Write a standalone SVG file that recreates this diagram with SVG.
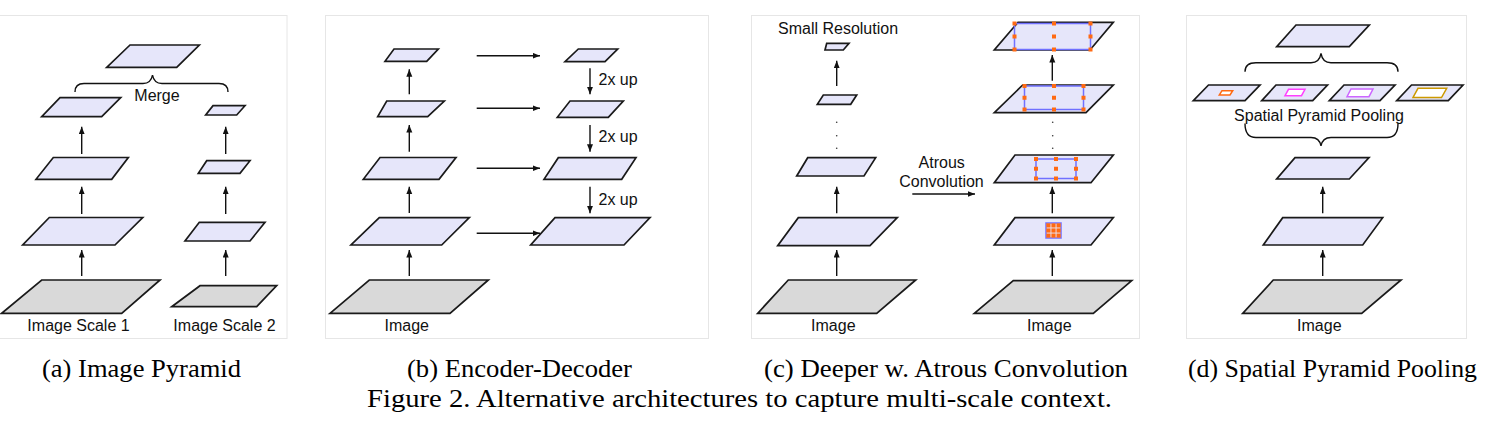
<svg xmlns="http://www.w3.org/2000/svg" width="1490" height="434" viewBox="0 0 1490 434">
<style>
.bg{fill:#ffffff}
.panel{fill:none;stroke:#e6e6e6;stroke-width:1}
.fm{fill:#e6e6fa;stroke:#1a1a1a;stroke-width:1.7;stroke-linejoin:miter}
.im{fill:#d9d9d9;stroke:#1a1a1a;stroke-width:1.7}
.ar{stroke:#111;stroke-width:1.4;fill:none;marker-end:url(#ah)}
.br{fill:none;stroke:#111;stroke-width:1.4}
.t{font-family:"Liberation Sans",Arial,sans-serif;font-size:16px;fill:#111}
.cap{font-family:"Liberation Serif","Times New Roman",Times,serif;font-size:25px;fill:#000}
.kr{fill:none;stroke:#7070ff;stroke-width:1.5}
.od{fill:#ff6a13}
.dt{fill:#333}
</style>
<defs>
<marker id="ah" markerUnits="userSpaceOnUse" markerWidth="8" markerHeight="7" refX="7.5" refY="3" orient="auto">
<path d="M0,0 L7.5,3 L0,6 z" fill="#111"/>
</marker>
</defs>
<rect class="bg" x="0" y="0" width="1490" height="434"/>
<g id="panels">
<rect class="panel" x="-2" y="15.5" width="289" height="323"/>
<rect class="panel" x="325.5" y="15.5" width="383" height="323"/>
<rect class="panel" x="751.5" y="15.5" width="388" height="323"/>
<rect class="panel" x="1186.5" y="15.5" width="280" height="323"/>
</g>

<!-- (a) Image Pyramid -->
<g id="a-image1"><polygon class="im" points="41.7,280 160,280 121.7,313.3 1.7,313.3"/></g>
<g id="a-s1-l1"><polygon class="fm" points="49.3,217.5 142.7,217.5 115,245 22.7,245"/></g>
<g id="a-s1-l2"><polygon class="fm" points="53.3,157.5 128.3,157.5 111.7,179.3 36,179.3"/></g>
<g id="a-s1-l3"><polygon class="fm" points="60,97.7 120.7,97.7 101.7,116.7 41.7,116.7"/></g>
<g id="a-image2"><polygon class="im" points="200,285.7 276.7,285.7 256.7,306.7 171.7,306.7"/></g>
<g id="a-s2-l1"><polygon class="fm" points="199.3,222.3 265,222.3 250,241 185,241"/></g>
<g id="a-s2-l2"><polygon class="fm" points="206.7,160.7 250,160.7 240,173.3 198.3,173.3"/></g>
<g id="a-s2-l3"><polygon class="fm" points="213,105.7 245,105.7 236.7,115 205.7,115"/></g>
<g id="a-merged"><polygon class="fm" points="130,45 199.3,45 176.7,67.3 106.7,67.3"/></g>
<g id="a-merge-brace">
<path class="br" d="M75,92 Q75,83.5 84,83.5 L143,83.5 Q151,83.5 152.5,75 Q154,83.5 162,83.5 L219,83.5 Q228,83.5 228,92"/>
<text class="t" x="157" y="101" text-anchor="middle">Merge</text>
</g>
<text class="t" x="78.5" y="330.5" text-anchor="middle">Image Scale 1</text>
<text class="t" x="224.5" y="330.5" text-anchor="middle">Image Scale 2</text>

<!-- (b) Encoder-Decoder -->
<g id="b-image"><polygon class="im" points="369.3,280 488.3,280 450,313.3 330,313.3"/></g>
<g id="b-e1"><polygon class="fm" points="379.3,217.7 469.3,217.7 441.7,245 351,245"/></g>
<g id="b-e2"><polygon class="fm" points="380,157.5 456,157.5 439,179.3 363.3,179.3"/></g>
<g id="b-e3"><polygon class="fm" points="386.7,101 444.3,101 427.7,116.7 377.7,116.7"/></g>
<g id="b-e4"><polygon class="fm" points="394,49 438.3,49 426.7,61.3 385,61.3"/></g>
<g id="b-d4"><polygon class="fm" points="578.3,49 617.7,49 605,61.7 565,61.7"/></g>
<g id="b-d3"><polygon class="fm" points="570,101 623.3,101 608.3,117.3 557.3,117.3"/></g>
<g id="b-d2"><polygon class="fm" points="558.3,157.7 636,157.7 621.7,179.3 544,179.3"/></g>
<g id="b-d1"><polygon class="fm" points="555,217.7 650,217.7 624,245 530.7,245"/></g>
<text class="t" x="598.5" y="84.5">2x up</text>
<text class="t" x="598.5" y="141.5">2x up</text>
<text class="t" x="598.5" y="204.5">2x up</text>
<text class="t" x="406.7" y="330.5" text-anchor="middle">Image</text>

<!-- (c) Deeper w. Atrous Convolution -->
<g id="c-image-l"><polygon class="im" points="788.3,280 915.7,280 876.7,313.3 757.7,313.3"/></g>
<g id="c-l1"><polygon class="fm" points="798.3,217.7 897.3,217.7 870,245.7 777.7,245.7"/></g>
<g id="c-l2"><polygon class="fm" points="807.7,157.7 875.7,157.7 864,176 796.7,176"/></g>
<g id="c-l3"><polygon class="fm" points="823.3,95 856.7,95 850.7,104.3 817.3,104.3"/></g>
<g id="c-l4"><polygon class="fm" points="826.7,43.3 849,43.3 843.3,50 825,50"/></g>
<text class="t" x="778" y="34">Small Resolution</text>
<g id="c-dots-l"><circle class="dt" cx="836.7" cy="122.3" r="0.8"/><circle class="dt" cx="836.7" cy="135.7" r="0.8"/><circle class="dt" cx="836.7" cy="148.3" r="0.8"/></g>
<text class="t" x="833.3" y="330.5" text-anchor="middle">Image</text>
<text class="t" x="941.7" y="168.3" text-anchor="middle">Atrous</text>
<text class="t" x="941.5" y="186.7" text-anchor="middle">Convolution</text>

<g id="c-image-r"><polygon class="im" points="1013.3,280.7 1131.7,280.7 1093.3,313.3 974.3,313.3"/></g>
<g id="c-r1">
<polygon class="fm" points="1015,217.7 1113.3,217.7 1091,245 994.3,245"/>
<rect x="1046" y="223" width="15" height="15" fill="#ffffff" class="kr"/>
<rect class="od" x="1046.3" y="223.3" width="4.2" height="4.2"/><rect class="od" x="1051.4" y="223.3" width="4.2" height="4.2"/><rect class="od" x="1056.5" y="223.3" width="4.2" height="4.2"/>
<rect class="od" x="1046.3" y="228.4" width="4.2" height="4.2"/><rect class="od" x="1051.4" y="228.4" width="4.2" height="4.2"/><rect class="od" x="1056.5" y="228.4" width="4.2" height="4.2"/>
<rect class="od" x="1046.3" y="233.5" width="4.2" height="4.2"/><rect class="od" x="1051.4" y="233.5" width="4.2" height="4.2"/><rect class="od" x="1056.5" y="233.5" width="4.2" height="4.2"/>
</g>
<g id="c-r2">
<polygon class="fm" points="1015,155 1113.3,155 1091,182.7 994.3,182.7"/>
<rect class="kr" x="1036" y="159" width="40" height="19.5"/>
<rect class="od" x="1034" y="157" width="4" height="4"/><rect class="od" x="1054" y="157" width="4" height="4"/><rect class="od" x="1074" y="157" width="4" height="4"/>
<rect class="od" x="1034" y="166.75" width="4" height="4"/><rect class="od" x="1054" y="166.75" width="4" height="4"/><rect class="od" x="1074" y="166.75" width="4" height="4"/>
<rect class="od" x="1034" y="176.5" width="4" height="4"/><rect class="od" x="1054" y="176.5" width="4" height="4"/><rect class="od" x="1074" y="176.5" width="4" height="4"/>
</g>
<g id="c-dots-r"><circle class="dt" cx="1052.7" cy="122.3" r="0.8"/><circle class="dt" cx="1052.7" cy="135.7" r="0.8"/><circle class="dt" cx="1052.7" cy="148.3" r="0.8"/></g>
<g id="c-r3">
<polygon class="fm" points="1022.7,85 1113.3,85 1086,112.7 994.3,112.7"/>
<rect class="kr" x="1024.5" y="86" width="59" height="23.5"/>
<rect class="od" x="1022.5" y="84" width="4" height="4"/><rect class="od" x="1052" y="84" width="4" height="4"/><rect class="od" x="1081.5" y="84" width="4" height="4"/>
<rect class="od" x="1022.5" y="95.75" width="4" height="4"/><rect class="od" x="1052" y="95.75" width="4" height="4"/><rect class="od" x="1081.5" y="95.75" width="4" height="4"/>
<rect class="od" x="1022.5" y="107.5" width="4" height="4"/><rect class="od" x="1052" y="107.5" width="4" height="4"/><rect class="od" x="1081.5" y="107.5" width="4" height="4"/>
</g>
<g id="c-r4">
<polygon class="fm" points="1018,22.3 1113.3,22.3 1090,50 994.3,50"/>
<rect class="kr" x="1014.5" y="23.5" width="76" height="26"/>
<rect class="od" x="1012.5" y="21.5" width="4" height="4"/><rect class="od" x="1052" y="21.5" width="4" height="4"/><rect class="od" x="1088.5" y="21.5" width="4" height="4"/>
<rect class="od" x="1012.5" y="34.5" width="4" height="4"/><rect class="od" x="1052" y="34.5" width="4" height="4"/><rect class="od" x="1088.5" y="34.5" width="4" height="4"/>
<rect class="od" x="1012.5" y="47.5" width="4" height="4"/><rect class="od" x="1052" y="47.5" width="4" height="4"/><rect class="od" x="1088.5" y="47.5" width="4" height="4"/>
</g>
<text class="t" x="1049.3" y="330.5" text-anchor="middle">Image</text>

<!-- (d) Spatial Pyramid Pooling -->
<g id="d-image"><polygon class="im" points="1273.3,280 1401,280 1361.7,313.3 1242.7,313.3"/></g>
<g id="d-l1"><polygon class="fm" points="1282.7,217.7 1382.7,217.7 1362.7,245 1263.3,245"/></g>
<g id="d-l2"><polygon class="fm" points="1295,157.7 1369,157.7 1349.3,179 1276.7,179"/></g>
<g id="d-brace-low"><path class="br" d="M1245,123.5 Q1245,137.5 1256,137.5 L1311,137.5 Q1319.5,137.5 1321,146 Q1322.5,137.5 1331,137.5 L1387,137.5 Q1398,137.5 1398,123.5"/></g>
<text class="t" x="1319" y="120.5" text-anchor="middle">Spatial Pyramid Pooling</text>
<g id="d-p1"><polygon class="fm" points="1208.5,85 1260,85 1245,100.7 1193.3,100.7"/><polygon fill="#fff" stroke="#ff6a13" stroke-width="1.5" points="1222,90.7 1232.7,90.7 1230,95 1219.3,95"/></g>
<g id="d-p2"><polygon class="fm" points="1276,85 1327.5,85 1312.7,100.7 1261.7,100.7"/><polygon fill="#fff" stroke="#ff40ff" stroke-width="1.5" points="1288.5,89.3 1305,89.3 1301.5,95.7 1285,95.7"/></g>
<g id="d-p3"><polygon class="fm" points="1344,85 1395,85 1380,100.7 1329.3,100.7"/><polygon fill="#fff" stroke="#cc66ff" stroke-width="1.5" points="1351,89 1373,89 1369,96.7 1347,96.7"/></g>
<g id="d-p4"><polygon class="fm" points="1411.5,85 1463,85 1448.3,100.7 1396.7,100.7"/><polygon fill="#fff" stroke="#cc9900" stroke-width="1.5" points="1418,88.3 1446.7,88.3 1441.5,97.5 1413,97.5"/></g>
<g id="d-brace-up"><path class="br" d="M1245,71.7 Q1245,62.7 1256,62.7 L1311,62.7 Q1319.5,62.7 1321,53.3 Q1322.5,62.7 1331,62.7 L1387,62.7 Q1398,62.7 1398,71.7"/></g>
<g id="d-top"><polygon class="fm" points="1296,25 1369.3,25 1349.3,46.7 1276.7,46.7"/></g>
<text class="t" x="1319.3" y="330.5" text-anchor="middle">Image</text>

<g id="connectors">
<line class="ar" x1="81.7" y1="276" x2="81.7" y2="250"/>
<line class="ar" x1="81.7" y1="214" x2="81.7" y2="186.7"/>
<line class="ar" x1="81.7" y1="154" x2="81.7" y2="126.7"/>
<line class="ar" x1="225.7" y1="276" x2="225.7" y2="250"/>
<line class="ar" x1="225.7" y1="214" x2="225.7" y2="186.7"/>
<line class="ar" x1="225.7" y1="154" x2="225.7" y2="126.7"/>
<line class="ar" x1="409.3" y1="276" x2="409.3" y2="250"/>
<line class="ar" x1="409.3" y1="213" x2="409.3" y2="186.7"/>
<line class="ar" x1="409.3" y1="151.7" x2="409.3" y2="125"/>
<line class="ar" x1="409.3" y1="94.3" x2="409.3" y2="69.3"/>
<line class="ar" x1="476.7" y1="55.7" x2="540" y2="55.7"/>
<line class="ar" x1="476.7" y1="108.3" x2="540" y2="108.3"/>
<line class="ar" x1="476.7" y1="168.3" x2="540" y2="168.3"/>
<line class="ar" x1="476.7" y1="233.3" x2="540" y2="233.3"/>
<line class="ar" x1="590" y1="68.3" x2="590" y2="94.3"/>
<line class="ar" x1="590" y1="125" x2="590" y2="151.7"/>
<line class="ar" x1="590" y1="186.7" x2="590" y2="213.3"/>
<line class="ar" x1="836.7" y1="276" x2="836.7" y2="250"/>
<line class="ar" x1="836.7" y1="213.3" x2="836.7" y2="186.7"/>
<line class="ar" x1="836.7" y1="86" x2="836.7" y2="60.7"/>
<line class="ar" x1="912.3" y1="194" x2="975" y2="194"/>
<line class="ar" x1="1052.3" y1="276" x2="1052.3" y2="250"/>
<line class="ar" x1="1052.3" y1="213.3" x2="1052.3" y2="186.7"/>
<line class="ar" x1="1052.3" y1="80.7" x2="1052.3" y2="55"/>
<line class="ar" x1="1322.7" y1="276" x2="1322.7" y2="250"/>
<line class="ar" x1="1322.7" y1="213.3" x2="1322.7" y2="186.7"/>
</g>

<g id="captions">
<text class="cap" x="42" y="376.5" textLength="199" lengthAdjust="spacingAndGlyphs">(a) Image Pyramid</text>
<text class="cap" x="407" y="376.5" textLength="225" lengthAdjust="spacingAndGlyphs">(b) Encoder-Decoder</text>
<text class="cap" x="764" y="376.5" textLength="364" lengthAdjust="spacingAndGlyphs">(c) Deeper w. Atrous Convolution</text>
<text class="cap" x="1188" y="376.5" textLength="289" lengthAdjust="spacingAndGlyphs">(d) Spatial Pyramid Pooling</text>
<text class="cap" x="367" y="406.5" textLength="745" lengthAdjust="spacingAndGlyphs">Figure 2. Alternative architectures to capture multi-scale context.</text>
</g>
</svg>
